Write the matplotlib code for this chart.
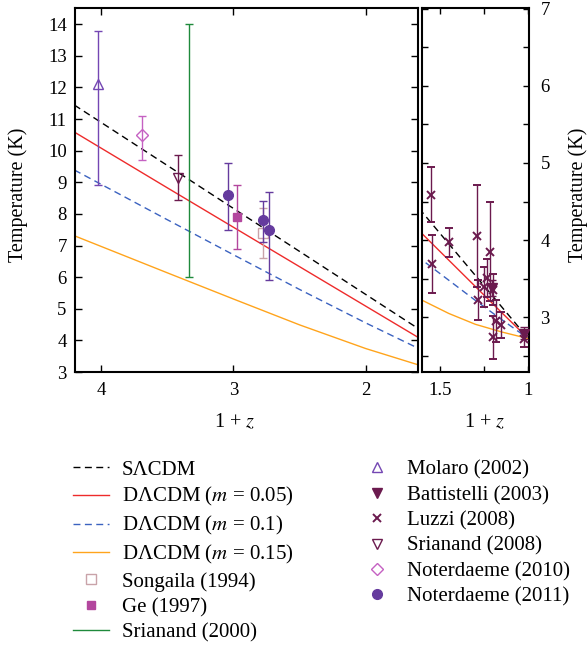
import matplotlib
matplotlib.use("Agg")
import matplotlib.pyplot as plt
from matplotlib.lines import Line2D

plt.rcParams['font.family'] = ['Liberation Serif', 'DejaVu Serif']
plt.rcParams['mathtext.fontset'] = 'stix'

# ---------------- data ----------------
# model curves at these values of 1+z
curve_x = [4.2, 3.5, 3.0, 2.5, 2.0, 1.6, 1.45, 1.3, 1.15, 1.0]
t_slcdm = [11.445, 9.538, 8.175, 6.813, 5.45, 4.36, 3.951, 3.543, 3.134, 2.725]
t_m005 = [10.59, 8.83, 7.58, 6.33, 5.08, 4.08, 3.74, 3.40, 3.06, 2.725]
t_m010 = [9.39, 7.82, 6.71, 5.61, 4.55, 3.74, 3.48, 3.22, 2.97, 2.725]
t_m015 = [7.31, 6.14, 5.31, 4.49, 3.74, 3.22, 3.05, 2.91, 2.81, 2.725]

# observations: 1+z, T, lower error, upper error
songaila_x = [2.776]; songaila_t = [7.4]; songaila_lo = [0.8]; songaila_hi = [0.8]
ge_x = [2.973]; ge_t = [7.9]; ge_lo = [1.0]; ge_hi = [1.0]
sri2000_x = [3.337]; sri2000_tmin = [6.0]; sri2000_tmax = [14.0]
molaro_x = [4.025]; molaro_t = [12.1]; molaro_lo = [3.2]; molaro_hi = [1.7]
batt_x = [1.0231, 1.203]; batt_t = [2.789, 3.377]; batt_lo = [0.065, 0.102]; batt_hi = [0.080, 0.101]
luzzi_x = [1.023, 1.152, 1.183, 1.200, 1.202, 1.216, 1.232, 1.252, 1.282, 1.291, 1.451, 1.546, 1.550]
luzzi_t = [2.72, 2.90, 2.95, 2.74, 3.36, 3.85, 3.51, 3.39, 3.22, 4.05, 3.97, 3.69, 4.59]
luzzi_err = [0.10, 0.17, 0.27, 0.28, 0.20, 0.64, 0.25, 0.26, 0.26, 0.66, 0.19, 0.37, 0.36]
sri2008_x = [3.418]; sri2008_t = [9.15]; sri2008_lo = [0.72]; sri2008_hi = [0.72]
not2010_x = [3.69]; not2010_t = [10.5]; not2010_lo = [0.8]; not2010_hi = [0.6]
not2011_x = [3.0377, 2.7765, 2.7293]; not2011_t = [8.6, 7.8, 7.5]
not2011_lo = [1.1, 0.7, 1.6]; not2011_hi = [1.0, 0.6, 1.2]

left_xticks = [4, 3, 2]
left_yticks = list(range(3, 15))
right_xticks = [1.5, 1.0]
right_xlabels = ['1.5', '1']
right_yticks = [3, 4, 5, 6, 7]

# ---------------- styles ----------------
C_RED = '#ee2b2b'; C_BLUE = '#3b62c0'; C_ORANGE = '#ffa41c'; C_GREEN = '#1f8a3c'
C_SONG = '#c9a3a9'; C_GE = '#b3479e'; C_MOL = '#7447b3'; C_MAR = '#6b1a4e'
C_N10 = '#c561c2'; C_N11 = '#653b9e'

curves = [
    (t_slcdm, dict(color='black', lw=1.0, dashes=(5, 3.2)), 'S\u039bCDM'),
    (t_m005, dict(color=C_RED, lw=1.0), 'D\u039bCDM ($m$ = 0.05)'),
    (t_m010, dict(color=C_BLUE, lw=1.0, dashes=(5, 3.2)), 'D\u039bCDM ($m$ = 0.1)'),
    (t_m015, dict(color=C_ORANGE, lw=1.0), 'D\u039bCDM ($m$ = 0.15)'),
]

eb = dict(capsize=3.2, elinewidth=1.0, capthick=1.0, linestyle='none')

fig = plt.figure(figsize=(5.87, 6.45), dpi=100)
W, H = 587.0, 645.0
axL = fig.add_axes([75 / W, 1 - 372 / H, 343.5 / W, 364.5 / H])
axR = fig.add_axes([421.7 / W, 1 - 372 / H, 107.6 / W, 364.5 / H])

for ax in (axL, axR):
    for t, st, lab in curves:
        ax.plot(curve_x, t, **st, zorder=2)

    ax.errorbar(songaila_x, songaila_t, yerr=[songaila_lo, songaila_hi], fmt='s', ms=6.5,
                mfc='white', mec=C_SONG, mew=1.0, color=C_SONG, zorder=3, **eb)
    ax.errorbar(ge_x, ge_t, yerr=[ge_lo, ge_hi], fmt='s', ms=6.2,
                mfc=C_GE, mec=C_GE, color=C_GE, zorder=4, **eb)
    sc = [(a + b) / 2 for a, b in zip(sri2000_tmin, sri2000_tmax)]
    se = [(b - a) / 2 for a, b in zip(sri2000_tmin, sri2000_tmax)]
    ax.errorbar(sri2000_x, sc, yerr=se, fmt='none', color=C_GREEN, zorder=4, **eb)
    ax.errorbar(molaro_x, molaro_t, yerr=[molaro_lo, molaro_hi], fmt='^', ms=7,
                mfc='none', mec=C_MOL, mew=1.0, color=C_MOL, zorder=4, **eb)
    ax.errorbar(luzzi_x, luzzi_t, yerr=luzzi_err, fmt='x', ms=5.5, mew=1.4,
                color=C_MAR, zorder=4, **eb)
    ax.errorbar(batt_x, batt_t, yerr=[batt_lo, batt_hi], fmt='v', ms=7,
                mfc=C_MAR, mec=C_MAR, color=C_MAR, zorder=5, **eb)
    ax.errorbar(sri2008_x, sri2008_t, yerr=[sri2008_lo, sri2008_hi], fmt='v', ms=7,
                mfc='none', mec=C_MAR, mew=1.0, color=C_MAR, zorder=4, **eb)
    ax.errorbar(not2010_x, not2010_t, yerr=[not2010_lo, not2010_hi], fmt='D', ms=6,
                mfc='none', mec=C_N10, mew=1.0, color=C_N10, zorder=4, **eb)
    ax.errorbar(not2011_x, not2011_t, yerr=[not2011_lo, not2011_hi], fmt='o', ms=7,
                mfc=C_N11, mec=C_N11, color=C_N11, zorder=5, **eb)
    for s in ax.spines.values():
        s.set_linewidth(1.5)

xlab = '1 + $z$'

axL.set_xlim(4.195, 1.603)
axL.set_ylim(3, 14.53)
axL.set_xticks(left_xticks)
axL.set_xticklabels([str(v) for v in left_xticks])
axL.set_yticks(left_yticks)
axL.tick_params(direction='in', length=5, width=1.0, labelsize=13.5, pad=6,
                top=True, right=True, labeltop=False, labelright=False)
axL.tick_params(axis='x', pad=7)
axL.set_ylabel('Temperature (K)', fontsize=14.5)
axL.set_xlabel(xlab, fontsize=14.5)
axL.xaxis.set_label_coords((235 - 75) / 343.5, -(413 - 372) / 364.5)
axL.yaxis.set_label_coords(-(75 - 28) / 343.5, (372 - 195) / 364.5)

axR.set_xlim(1.6036, 0.9943)
axR.set_ylim(2.292, 7.013)
axR.set_xticks(right_xticks)
axR.set_xticklabels(right_xlabels)
axR.set_xticks([1.25], minor=True)
axR.set_yticks(right_yticks)
axR.set_yticks([2.5, 3.5, 4.5, 5.5, 6.5], minor=True)
axR.yaxis.set_ticks_position('both')
axR.tick_params(which='both', direction='in', length=4.5, width=1.0, labelsize=13.5,
                top=True, right=True, left=True, labelleft=False, labelright=True, pad=8)
axR.tick_params(axis='x', which='both', pad=7)
axR.yaxis.set_label_position('right')
axR.set_ylabel('Temperature (K)', fontsize=14.5)
axR.set_xlabel(xlab, fontsize=14.5)
axR.xaxis.set_label_coords((485 - 421.7) / 107.6, -(413 - 372) / 364.5)
axR.yaxis.set_label_coords((568 - 421.7) / 107.6, (372 - 195) / 364.5)

# legend proxies (markers only, as in the reference)
handles = [Line2D([], [], **st) for t, st, lab in curves]
labels = [lab for t, st, lab in curves]
handles += [
    Line2D([], [], ls='none', marker='s', ms=6.5, mfc='white', mec=C_SONG),
    Line2D([], [], ls='none', marker='s', ms=6.2, mfc=C_GE, mec=C_GE),
    Line2D([], [], color=C_GREEN, lw=1.0),
    Line2D([], [], ls='none', marker='^', ms=7, mfc='none', mec=C_MOL),
    Line2D([], [], ls='none', marker='v', ms=7, mfc=C_MAR, mec=C_MAR),
    Line2D([], [], ls='none', marker='x', ms=5.5, mew=1.4, color=C_MAR),
    Line2D([], [], ls='none', marker='v', ms=7, mfc='none', mec=C_MAR),
    Line2D([], [], ls='none', marker='D', ms=6, mfc='none', mec=C_N10),
    Line2D([], [], ls='none', marker='o', ms=7, mfc=C_N11, mec=C_N11),
]
labels += ['Songaila (1994)', 'Ge (1997)', 'Srianand (2000)', 'Molaro (2002)',
           'Battistelli (2003)', 'Luzzi (2008)', 'Srianand (2008)',
           'Noterdaeme (2010)', 'Noterdaeme (2011)']

fig.legend(handles, labels, ncol=2, loc='upper left',
           bbox_to_anchor=(73 / W, 1 - 460 / H), frameon=False, fontsize=15,
           handlelength=1.75, handletextpad=0.6, columnspacing=3.1,
           labelspacing=0.28, borderaxespad=0, borderpad=0)

fig.savefig('out.png', dpi=100)
